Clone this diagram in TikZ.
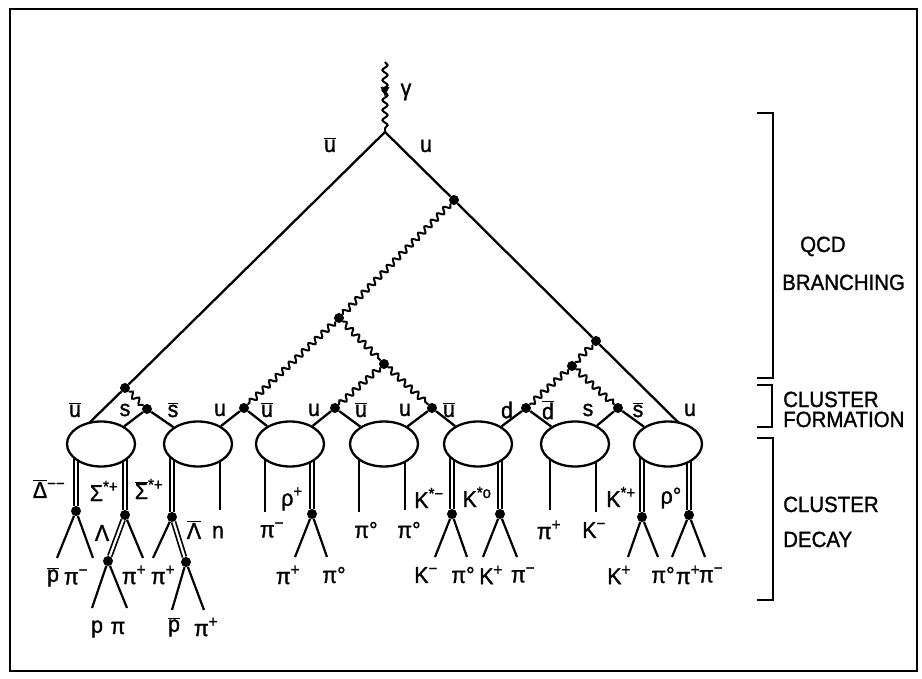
\documentclass[tikz,border=0pt]{standalone}
\usepackage{fontspec}
\setmainfont{Liberation Sans}
\newfontfamily\labfont[FakeStretch=0.93,FakeBold=1.2]{Liberation Sans}
\usetikzlibrary{decorations.pathmorphing,decorations.markings,arrows.meta,backgrounds,shapes.geometric,calc}
\newcommand\ovl[1]{$\overline{\mbox{#1}}$}
\newcommand\sups[1]{\textsuperscript{#1}}
\begin{document}
\begin{tikzpicture}[x=1pt,y=-1pt,
  quark/.style={line width=2.3pt},
  gluon/.style={line width=2pt, decorate, decoration={snake, amplitude=2.8pt, segment length=9pt}},
  dbl/.style={line width=1.7pt, double=white, double distance=2.2pt},
  thin/.style={line width=2.2pt},
  vtx/.style={circle, fill=black, inner sep=0pt, minimum size=10pt},
  clus/.style={ellipse, draw, line width=2.3pt, fill=white, minimum width=68pt, minimum height=45pt, inner sep=0pt},
  lab/.style={font=\labfont\fontsize{23}{23}\selectfont, inner sep=0pt},
  big/.style={font=\labfont\fontsize{22}{22}\selectfont, inner sep=0pt, anchor=base west},
  brk/.style={line width=2.2pt}
]
\useasboundingbox (0,0) rectangle (922,679);
\draw[line width=2pt] (10,9) rectangle (917,671);

% vertices
\coordinate (gtop) at (385,62);
\coordinate (v0) at (385,132);
\node[vtx] (g1) at (125,388) {};
\node[vtx] (g2) at (454,200) {};
\node[vtx] (g3) at (596,341) {};
\node[vtx] (h1) at (339,318) {};
\node[vtx] (h2) at (384,364) {};
\node[vtx] (h3) at (572,366) {};
\node[vtx] (d1) at (147,409) {};
\node[vtx] (d2) at (244,408) {};
\node[vtx] (d3) at (335,408) {};
\node[vtx] (d4) at (432,408) {};
\node[vtx] (d5) at (526,408) {};
\node[vtx] (d6) at (618,408) {};

% clusters
\node[clus] (e1) at (101,444) {};
\node[clus] (e2) at (198,444) {};
\node[clus] (e3) at (290,444) {};
\node[clus] (e4) at (384,444) {};
\node[clus] (e5) at (478,444) {};
\node[clus] (e6) at (575,444) {};
\node[clus] (e7) at (668,444) {};
\coordinate (a1) at (85,427);
\coordinate (a7) at (686,430);

% decay vertices
\node[vtx] (k1) at (76,511) {};
\node[vtx] (k2) at (125,515) {};
\node[vtx] (k3) at (108,561) {};
\node[vtx] (k4) at (172,517) {};
\node[vtx] (k5) at (186,562) {};
\node[vtx] (k6) at (312,514) {};
\node[vtx] (k7) at (452,514) {};
\node[vtx] (k8) at (500,514) {};
\node[vtx] (k9) at (642,517) {};
\node[vtx] (k10) at (689,515) {};

% free ends
\coordinate (p1) at (57,558);  \coordinate (p2) at (93,558);
\coordinate (p3) at (143,558);
\coordinate (p4) at (92,608);  \coordinate (p5) at (127,608);
\coordinate (p6) at (220,510);
\coordinate (p7) at (153,558);
\coordinate (p8) at (172,610); \coordinate (p9) at (204,610);
\coordinate (p10) at (265,512);
\coordinate (p11) at (295,557); \coordinate (p12) at (327,557);
\coordinate (p13) at (359,512); \coordinate (p14) at (405,510);
\coordinate (p15) at (435,557); \coordinate (p16) at (467,557);
\coordinate (p17) at (483,557); \coordinate (p18) at (517,557);
\coordinate (p19) at (550,510); \coordinate (p20) at (596,512);
\coordinate (p21) at (628,557); \coordinate (p22) at (658,557);
\coordinate (p23) at (672,557); \coordinate (p24) at (705,557);

\begin{scope}[on background layer]
  % photon
  \draw[gluon, decoration={snake, amplitude=2.6pt, segment length=10pt}] (gtop) -- (v0);
  \path[decoration={markings, mark=at position 0.5 with {\arrow{Latex[length=10pt,width=9pt]}}}, decorate] (gtop) -- (v0);
  % quark lines
  \draw[quark] (v0) -- (g1) -- (a1);
  \draw[quark] (v0) -- (g2) -- (g3) -- (a7);
  % gluons
  \draw[gluon] (g1) -- (d1);
  \draw[gluon] (g2) -- (h1);
  \draw[gluon] (h1) -- (d2);
  \draw[gluon] (h1) -- (h2);
  \draw[gluon] (h2) -- (d3);
  \draw[gluon] (h2) -- (d4);
  \draw[gluon] (g3) -- (h3);
  \draw[gluon] (h3) -- (d5);
  \draw[gluon] (h3) -- (d6);
  % quark pairs to clusters
  \draw[quark] (e1) -- (d1) -- (e2);
  \draw[quark] (e2) -- (d2) -- (e3);
  \draw[quark] (e3) -- (d3) -- (e4);
  \draw[quark] (e4) -- (d4) -- (e5);
  \draw[quark] (e5) -- (d5) -- (e6);
  \draw[quark] (e6) -- (d6) -- (e7);
  % cluster decays
  \draw[dbl] ($(e1)+(-25,0)$) -- (k1);
  \draw[dbl] ($(e1)+(24,0)$) -- (k2);
  \draw[thin] (p1) -- (k1) -- (p2);
  \draw[dbl] (k2) -- (k3);
  \draw[thin] (k2) -- (p3);
  \draw[thin] (p4) -- (k3) -- (p5);
  \draw[dbl] ($(e2)+(-26,0)$) -- (k4);
  \draw[thin] ($(e2)+(22,0)$) -- (p6);
  \draw[thin] (k4) -- (p7);
  \draw[dbl] (k4) -- (k5);
  \draw[thin] (p8) -- (k5) -- (p9);
  \draw[thin] ($(e3)+(-25,0)$) -- (p10);
  \draw[dbl] ($(e3)+(22,0)$) -- (k6);
  \draw[thin] (p11) -- (k6) -- (p12);
  \draw[thin] ($(e4)+(-25,0)$) -- (p13);
  \draw[thin] ($(e4)+(21,0)$) -- (p14);
  \draw[dbl] ($(e5)+(-26,0)$) -- (k7);
  \draw[dbl] ($(e5)+(22,0)$) -- (k8);
  \draw[thin] (p15) -- (k7) -- (p16);
  \draw[thin] (p17) -- (k8) -- (p18);
  \draw[thin] ($(e6)+(-25,0)$) -- (p19);
  \draw[thin] ($(e6)+(21,0)$) -- (p20);
  \draw[dbl] ($(e7)+(-26,0)$) -- (k9);
  \draw[dbl] ($(e7)+(21,0)$) -- (k10);
  \draw[thin] (p21) -- (k9) -- (p22);
  \draw[thin] (p23) -- (k10) -- (p24);
\end{scope}

% labels: top
\node[lab] (lgam) at (406,92) {γ};
\node[lab] (lub) at (330,145) {\ovl{u}};
\node[lab] (lu) at (426,146) {u};
% quark labels
\node[lab] (q1) at (75,410) {\ovl{u}};
\node[lab] (q2) at (125,410) {s};
\node[lab] (q3) at (173,410) {\ovl{s}};
\node[lab] (q4) at (220,410) {u};
\node[lab] (q5) at (267,410) {\ovl{u}};
\node[lab] (q6) at (314,410) {u};
\node[lab] (q7) at (361,410) {\ovl{u}};
\node[lab] (q8) at (405,410) {u};
\node[lab] (q9) at (449,410) {\ovl{u}};
\node[lab] (q10) at (507,410) {d};
\node[lab] (q11) at (548,410) {\ovl{d}};
\node[lab] (q12) at (588,410) {s};
\node[lab] (q13) at (638,410) {\ovl{s}};
\node[lab] (q14) at (690,410) {u};
% hadron labels
\node[lab] (r1) at (49,489) {\ovl{Δ}\sups{−−}};
\node[lab] (r2) at (104,491) {Σ\sups{*+}};
\node[lab] (r3) at (149,489) {\ovl{Σ}\sups{*+}};
\node[lab] (r4) at (102,533) {Λ};
\node[lab] (r5) at (194,530) {\ovl{Λ}};
\node[lab] (r6) at (218,532) {n};
\node[lab] (r7) at (53,577) {\ovl{p}};
\node[lab] (r8) at (76,577) {π\sups{−}};
\node[lab] (r9) at (134,575) {π\sups{+}};
\node[lab] (r10) at (163,575) {π\sups{+}};
\node[lab] (r11) at (97,629) {p};
\node[lab] (r12) at (118,628) {π};
\node[lab] (r13) at (174,627) {\ovl{p}};
\node[lab] (r14) at (206,627) {π\sups{+}};
\node[lab] (r15) at (272,530) {π\sups{−}};
\node[lab] (r16) at (292,499) {ρ\sups{+}};
\node[lab] (r17) at (288,575) {π\sups{+}};
\node[lab] (r18) at (334,575) {π°};
\node[lab] (r19) at (366,530) {π°};
\node[lab] (r20) at (409,530) {π°};
\node[lab] (r21) at (429,498) {K\sups{*−}};
\node[lab] (r22) at (477,497) {K\sups{*o}};
\node[lab] (r23) at (426,575) {K\sups{−}};
\node[lab] (r24) at (463,575) {π°};
\node[lab] (r25) at (491,575) {K\sups{+}};
\node[lab] (r26) at (523,575) {π\sups{−}};
\node[lab] (r27) at (549,530) {π\sups{+}};
\node[lab] (r28) at (594,530) {K\sups{−}};
\node[lab] (r29) at (621,497) {K\sups{*+}};
\node[lab] (r30) at (671,498) {ρ°};
\node[lab] (r31) at (619,575) {K\sups{+}};
\node[lab] (r32) at (663,575) {π°};
\node[lab] (r33) at (688,575) {π\sups{+}};
\node[lab] (r34) at (711,575) {π\sups{−}};

% brackets
\coordinate (b1a) at (757,113); \coordinate (b1b) at (773,113);
\coordinate (b1c) at (773,378); \coordinate (b1d) at (757,378);
\draw[brk] (b1a) -- (b1b) -- (b1c) -- (b1d);
\coordinate (b2a) at (757,385); \coordinate (b2b) at (772,385);
\coordinate (b2c) at (772,427); \coordinate (b2d) at (757,427);
\draw[brk] (b2a) -- (b2b) -- (b2c) -- (b2d);
\coordinate (b3a) at (757,438); \coordinate (b3b) at (773,438);
\coordinate (b3c) at (773,600); \coordinate (b3d) at (757,600);
\draw[brk] (b3a) -- (b3b) -- (b3c) -- (b3d);

\node[big] (t1) at (800,252) {QCD};
\node[big] (t2) at (782,290) {BRANCHING};
\node[big] (t3) at (783,407) {CLUSTER};
\node[big] (t4) at (783,427) {FORMATION};
\node[big] (t5) at (783,512) {CLUSTER};
\node[big] (t6) at (783,547) {DECAY};
\end{tikzpicture}
\end{document}
